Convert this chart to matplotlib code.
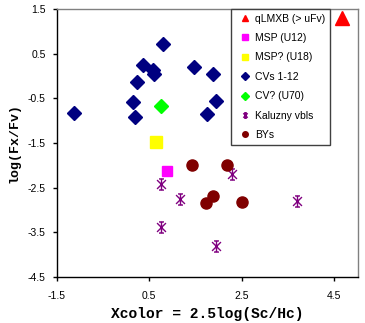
#!/usr/bin/env python3
# -*- coding: utf-8 -*-
"""
X-ray colour vs log(Fx/Fv) for the different source classes
"""

import numpy as np
import matplotlib
matplotlib.use("Agg")
import matplotlib.pyplot as plt
from matplotlib.path import Path

# data
qlmxb_x = [4.67]
qlmxb_y = [1.29]

msp_x = [0.88]
msp_y = [-2.12]

msp2_x = [0.65]
msp2_y = [-1.48]

cv_x = [-1.13, 0.14, 0.20, 0.23, 0.37, 0.57, 0.61, 0.79, 1.46, 1.88, 1.95, 1.75]
cv_y = [-0.82, -0.59, -0.91, -0.14, 0.24, 0.14, 0.04, 0.71, 0.21, 0.04, -0.55, -0.85]

cv2_x = [0.75]
cv2_y = [-0.67]

kal_x = [0.75, 1.17, 2.30, 3.69, 0.75, 1.95]
kal_y = [-2.42, -2.75, -2.19, -2.79, -3.37, -3.80]

by_x = [1.42, 2.19, 1.88, 1.73, 2.51]
by_y = [-2.00, -2.00, -2.68, -2.83, -2.82]

labels = ["qLMXB (> uFv)", "MSP (U12)", "MSP? (U18)", "CVs 1-12",
          "CV? (U70)", "Kaluzny vbls", "BYs"]

xticks = [-1.5, 0.5, 2.5, 4.5]
yticks = [1.5, 0.5, -0.5, -1.5, -2.5, -3.5, -4.5]

# excel like "star" marker: asterisk with caps top and bottom
verts = [(0, -1), (0, 1), (-0.8, -0.8), (0.8, 0.8), (-0.8, 0.8), (0.8, -0.8),
         (-0.45, 1), (0.45, 1), (-0.45, -1), (0.45, -1)]
codes = [Path.MOVETO, Path.LINETO] * 5
star = Path(verts, codes)


def main():
    plt.rcParams['font.family'] = ['Liberation Sans', 'DejaVu Sans']
    fig = plt.figure(figsize=(3.65, 3.23), dpi=100)
    ax = fig.add_axes([0.156, 0.142, 0.825, 0.830])

    ax.plot(qlmxb_x, qlmxb_y, ls='none', marker='^', ms=10, color='#ff0000', label=labels[0])
    ax.plot(msp_x, msp_y, ls='none', marker='s', ms=7.5, color='#ff00ff', label=labels[1])
    ax.plot(msp2_x, msp2_y, ls='none', marker='s', ms=8, color='#ffff00', label=labels[2])
    ax.plot(cv_x, cv_y, ls='none', marker='D', ms=7.5, color='#000080', label=labels[3])
    ax.plot(cv2_x, cv2_y, ls='none', marker='D', ms=7.5, color='#00ff00', label=labels[4])
    ax.plot(kal_x, kal_y, ls='none', marker=star, ms=8, mew=1, color='#800080',
            fillstyle='none', label=labels[5])
    ax.plot(by_x, by_y, ls='none', marker='o', ms=8, color='#800000', label=labels[6])

    ax.set_xlim(-1.5, 5.02)
    ax.set_ylim(-4.5, 1.5)
    ax.set_xticks(xticks)
    ax.set_yticks(yticks)
    ax.set_xticklabels([str(t) for t in xticks])
    ax.set_yticklabels([str(t) for t in yticks])
    ax.tick_params(direction='out', length=3, width=1, labelsize=7.5)
    ax.tick_params(axis='x', pad=7)
    ax.tick_params(axis='y', pad=5)

    ax.spines['left'].set_color('black')
    ax.spines['bottom'].set_color('black')
    ax.spines['top'].set_color('#808080')
    ax.spines['right'].set_color('#808080')
    for s in ax.spines.values():
        s.set_linewidth(1)

    ax.set_xlabel("Xcolor = 2.5log(Sc/Hc)", fontsize=10.5, fontweight='bold',
                  family='Liberation Mono', labelpad=4)
    ax.set_ylabel("log(Fx/Fv)", fontsize=9.5, fontweight='bold',
                  family='Liberation Mono', labelpad=5)

    leg = ax.legend(loc='upper left', bbox_to_anchor=(0.578, 1.0), fontsize=7.5,
                    markerscale=0.5, handlelength=1.7, handletextpad=0.2,
                    labelspacing=0.9, borderpad=0.45, fancybox=False,
                    framealpha=1, edgecolor='#404040', borderaxespad=0)
    leg.get_frame().set_linewidth(1)

    fig.savefig("out.png", dpi=100)


if __name__ == "__main__":
    main()
